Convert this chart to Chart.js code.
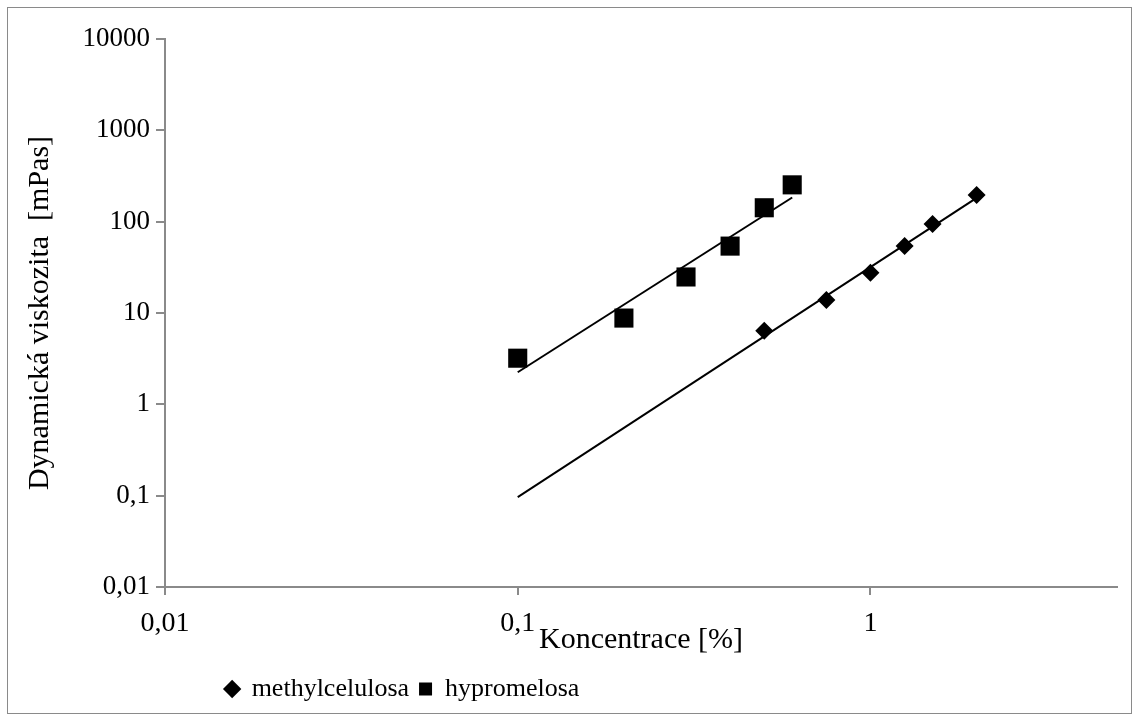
<!DOCTYPE html>
<html>
<head>
<meta charset="utf-8">
<script src="https://cdn.jsdelivr.net/npm/chart.js@4.4.1/dist/chart.umd.min.js"></script>
<style>
    html, body { margin: 0; padding: 0; background: #fff; }
    #wrap { position: relative; width: 1140px; height: 722px; }
    #frame { position: absolute; left: 7px; top: 7px; width: 1125px; height: 707px; border: 1px solid #8a8a8a; box-sizing: border-box; pointer-events: none; }
    canvas { display: block; }
</style>
</head>
<body>
<div id="wrap">
    <canvas id="chart" width="1140" height="722"></canvas>
    <div id="frame"></div>
</div>
<script>
// Concentration [%] and measured viscosity [mPas]
const mcConc = [0.5, 0.75, 1, 1.25, 1.5, 2];
const mcVisc = [6.4, 13.9, 27.5, 54, 94, 196];
const hpmcConc = [0.1, 0.2, 0.3, 0.4, 0.5, 0.6];
const hpmcVisc = [3.2, 8.8, 24.8, 54, 142, 253];

// Range over which each power trendline is drawn
const mcTrendRange = [0.1, 2];
const hpmcTrendRange = [0.1, 0.6];

const xTicks = [0.01, 0.1, 1];
const yTicks = [0.01, 0.1, 1, 10, 100, 1000, 10000];
const xMin = 0.01, xMax = 5;
const yMin = 0.01, yMax = 10000;

const FONT = '"Liberation Serif", "Times New Roman", serif';
const AXIS_GREY = '#8a8a8a';

// least squares fit of log(y) = log(a) + b*log(x), like a spreadsheet power trendline
function powerFit(xs, ys) {
    const lx = xs.map(Math.log10), ly = ys.map(Math.log10);
    const n = lx.length;
    const mx = lx.reduce((s, v) => s + v, 0) / n;
    const my = ly.reduce((s, v) => s + v, 0) / n;
    let sxy = 0, sxx = 0;
    for (let i = 0; i < n; i++) {
        sxy += (lx[i] - mx) * (ly[i] - my);
        sxx += (lx[i] - mx) * (lx[i] - mx);
    }
    const b = sxy / sxx;
    const a = Math.pow(10, my - b * mx);
    return x => a * Math.pow(x, b);
}

function trendPoints(xs, ys, range) {
    const f = powerFit(xs, ys);
    return range.map(x => ({ x: x, y: f(x) }));
}

function toPoints(xs, ys) {
    return xs.map((x, i) => ({ x: x, y: ys[i] }));
}

function commaLabel(v) {
    return String(v).replace('.', ',');
}

// moves the legend row horizontally (it sits left of centre)
const legendShift = {
    id: 'legendShift',
    afterLayout(chart, args, opts) {
        const lg = chart.legend;
        if (!lg) return;
        lg.left += opts.dx;
        lg.right += opts.dx;
    }
};

const ctx = document.getElementById('chart').getContext('2d');
new Chart(ctx, {
    type: 'scatter',
    data: {
        datasets: [
            {
                label: 'methylcelulosa',
                data: toPoints(mcConc, mcVisc),
                pointStyle: 'rectRot',
                pointRadius: 9,
                pointHoverRadius: 9,
                backgroundColor: '#000',
                borderColor: '#000',
                borderWidth: 0,
                order: 1
            },
            {
                label: 'hypromelosa',
                data: toPoints(hpmcConc, hpmcVisc),
                pointStyle: 'rect',
                pointRadius: 13.5,
                pointHoverRadius: 13.5,
                backgroundColor: '#000',
                borderColor: '#000',
                borderWidth: 0,
                order: 1
            },
            {
                label: 'trend-mc',
                type: 'line',
                data: trendPoints(mcConc, mcVisc, mcTrendRange),
                borderColor: '#000',
                borderWidth: 2,
                pointRadius: 0,
                fill: false,
                order: 2
            },
            {
                label: 'trend-hpmc',
                type: 'line',
                data: trendPoints(hpmcConc, hpmcVisc, hpmcTrendRange),
                borderColor: '#000',
                borderWidth: 2,
                pointRadius: 0,
                fill: false,
                order: 2
            }
        ]
    },
    options: {
        responsive: false,
        animation: false,
        layout: { padding: { left: 0, top: 39, right: 23, bottom: 10 } },
        plugins: {
            tooltip: { enabled: false },
            legendShift: { dx: -156 },
            legend: {
                position: 'bottom',
                labels: {
                    filter: item => !item.text.startsWith('trend'),
                    usePointStyle: true,
                    boxHeight: 13,
                    boxWidth: 13,
                    color: '#000',
                    padding: 10,
                    font: { family: FONT, size: 26 }
                }
            }
        },
        scales: {
            x: {
                type: 'logarithmic',
                min: xMin,
                max: xMax,
                afterBuildTicks: scale => { scale.ticks = xTicks.map(v => ({ value: v })); },
                afterFit: scale => { scale.height = 79; },
                ticks: {
                    color: '#000',
                    font: { family: FONT, size: 28 },
                    padding: 12,
                    maxRotation: 0,
                    autoSkip: false,
                    callback: v => commaLabel(v)
                },
                grid: { drawOnChartArea: false, drawTicks: true, tickLength: 8, color: AXIS_GREY, lineWidth: 2 },
                border: { color: AXIS_GREY, width: 2 },
                title: {
                    display: true,
                    text: 'Koncentrace [%]',
                    color: '#000',
                    font: { family: FONT, size: 30 },
                    padding: { top: 0, bottom: 8 }
                }
            },
            y: {
                type: 'logarithmic',
                min: yMin,
                max: yMax,
                afterBuildTicks: scale => { scale.ticks = yTicks.map(v => ({ value: v })); },
                afterFit: scale => { scale.width = 165; },
                ticks: {
                    color: '#000',
                    font: { family: FONT, size: 27 },
                    padding: 6,
                    autoSkip: false,
                    callback: v => commaLabel(v)
                },
                grid: { drawOnChartArea: false, drawTicks: true, tickLength: 9, color: AXIS_GREY, lineWidth: 2 },
                border: { color: AXIS_GREY, width: 2 },
                title: {
                    display: true,
                    text: 'Dynamická viskozita  [mPas]',
                    color: '#000',
                    font: { family: FONT, size: 30 },
                    padding: { top: 22, bottom: 0 }
                }
            }
        }
    },
    plugins: [legendShift]
});
</script>
</body>
</html>
